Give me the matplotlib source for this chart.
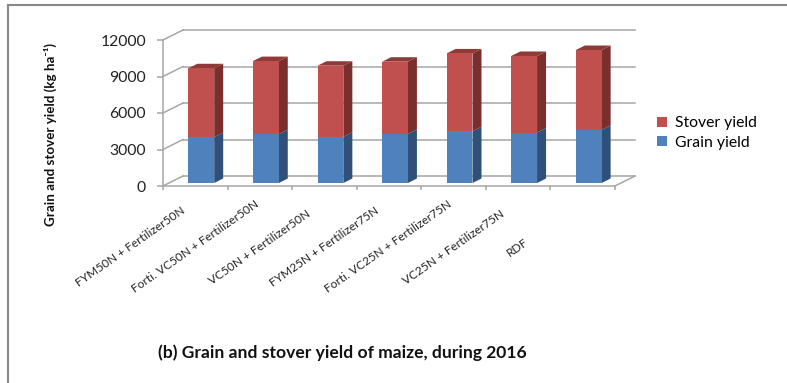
import numpy as np
import matplotlib
matplotlib.use("Agg")
import matplotlib.pyplot as plt
from matplotlib.patches import Polygon, Patch
from matplotlib.lines import Line2D
from matplotlib.transforms import ScaledTranslation

# treatments and yields (kg/ha), 2016
treatments = ["FYM50N + Fertilizer50N", "Forti. VC50N + Fertilizer50N",
              "VC50N + Fertilizer50N", "FYM25N + Fertilizer75N",
              "Forti. VC25N + Fertilizer75N", "VC25N + Fertilizer75N", "RDF"]
grain = [3770, 4010, 3790, 4040, 4260, 4150, 4370]
stover = [5660, 6010, 5850, 5930, 6390, 6290, 6560]
yticks = [0, 3000, 6000, 9000, 12000]

plt.rcParams['font.family'] = ['Lato', 'DejaVu Sans']

W, H, DPI = 787, 383, 100
fig = plt.figure(figsize=(W / DPI, H / DPI), dpi=DPI)

# front plane of the pseudo-3D box, in pixels
left_px, right_px, top_px, base_px = 163, 615, 40, 186
ax = fig.add_axes([left_px / W, 1 - base_px / H,
                   (right_px - left_px) / W, (base_px - top_px) / H])
n = len(treatments)
ax.set_xlim(-0.5, n - 0.5)
ax.set_ylim(0, 12000)

# pixel -> data unit scale
sx = (right_px - left_px) / n
sy = (base_px - top_px) / 12000.0


def off(dx_px, dy_px):
    return dx_px / sx, dy_px / sy


grid_c = "#a6a6a6"
bx, by = off(20, 10)       # back wall offset
fx, fy = off(6, 3)         # bar front face offset
dx, dy = off(9, 4.5)       # bar depth

# back wall gridlines + left wall diagonals
for v in yticks:
    ax.plot([-0.5 + bx, n - 0.5 + bx], [v + by, v + by], color=grid_c,
            lw=1.1, clip_on=False, zorder=1)
    ax.plot([-0.5, -0.5 + bx], [v, v + by], color=grid_c, lw=1.1,
            clip_on=False, zorder=1)
# right edge of the floor
ax.plot([n - 0.5, n - 0.5 + bx], [0, by], color=grid_c, lw=1.1,
        clip_on=False, zorder=1)

# stacked bars with side and top faces
bw = 0.4
faces = [("#4f81bd", "#2f5078", "#3a6597"), ("#c0504d", "#7b2f2d", "#8e3a37")]
x = np.arange(n)
for i in range(n):
    bottoms = [0, grain[i]]
    heights = [grain[i], stover[i]]
    for j, (b, h) in enumerate(zip(bottoms, heights)):
        front, side, top = faces[j]
        xl = x[i] - bw / 2 + fx
        xr = xl + bw
        y0 = b + fy
        y1 = b + h + fy
        ax.add_patch(Polygon([(xr, y0), (xr, y1), (xr + dx, y1 + dy),
                              (xr + dx, y0 + dy)], closed=True, fc=side,
                             ec="none", zorder=2, clip_on=False))
        if j == 1:
            ax.add_patch(Polygon([(xl, y1), (xr, y1), (xr + dx, y1 + dy),
                                  (xl + dx, y1 + dy)], closed=True, fc=top,
                                 ec="none", zorder=2, clip_on=False))
        ax.bar(xl, h, width=bw, bottom=y0, align="edge", color=front,
               zorder=3, clip_on=False)

# axes styling
for s in ["top", "right"]:
    ax.spines[s].set_visible(False)
for s in ["left", "bottom"]:
    ax.spines[s].set_color(grid_c)
    ax.spines[s].set_linewidth(1.1)
ax.set_yticks(yticks)
ax.set_yticklabels([str(v) for v in yticks], fontsize=11.3, color="#222222")
ax.tick_params(axis="y", length=4.3, width=1.1, color=grid_c, pad=8)
ax.set_xticks(np.arange(-0.5, n, 1.0))
ax.set_xticklabels([])
ax.tick_params(axis="x", length=3, width=1.1, color=grid_c)

# rotated category labels, centred below and left of each tick
for i, lab in enumerate(treatments):
    tr = ax.get_xaxis_transform() + ScaledTranslation(-65 / DPI, -61 / DPI,
                                                      fig.dpi_scale_trans)
    ax.text(x[i], 0, lab, transform=tr, rotation=35, ha="center",
            va="center", rotation_mode="anchor", fontsize=8.6,
            color="#222222")

fig.text(50 / W, 1 - 135 / H, "Grain and stover yield (kg ha\u207b\u00b9)",
         rotation=90, ha="center", va="center", fontsize=9.6,
         fontweight="bold", color="#111111")

handles = [Patch(fc="#c0504d"), Patch(fc="#4f81bd")]
fig.legend(handles, ["Stover yield", "Grain yield"], loc="upper left",
           bbox_to_anchor=(651 / W, 1 - 110 / H), frameon=False,
           fontsize=11.3, handlelength=0.65, handleheight=0.65,
           handletextpad=0.45, labelspacing=0.35, borderaxespad=0)

fig.text(158 / W, 1 - 353 / H,
         "(b) Grain and stover yield of maize, during 2016",
         ha="left", va="center", fontsize=12.6, fontweight="bold",
         color="#111111")

# outer frame (left and top edges)
fig.add_artist(Line2D([8 / W, 8 / W], [0, 1 - 5 / H], color="#888888",
                      lw=1.5, transform=fig.transFigure))
fig.add_artist(Line2D([8 / W, 1], [1 - 5 / H, 1 - 5 / H], color="#888888",
                      lw=1.5, transform=fig.transFigure))

fig.savefig("out.png", dpi=DPI)
